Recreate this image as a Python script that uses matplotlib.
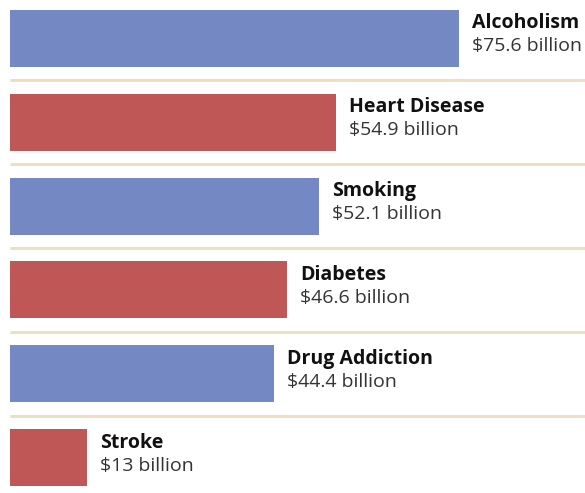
import matplotlib as mpl
mpl.use('Agg')
import matplotlib.pyplot as plt

causes = ["Alcoholism", "Heart Disease", "Smoking", "Diabetes", "Drug Addiction", "Stroke"]
costs = [75.6, 54.9, 52.1, 46.6, 44.4, 13]
cost_labels = ["$75.6 billion", "$54.9 billion", "$52.1 billion", "$46.6 billion", "$44.4 billion", "$13 billion"]

blue = "#7489c3"
red = "#c05757"
rule = "#ecdfc3"

W, H = 585, 493
px_per_b = 5.94       # pixels per billion
left = 10
row = 83.8
top = 38.5
bar_h = 57

fig = plt.figure(figsize=(W / 100, H / 100), dpi=100)
ax = fig.add_axes([0, 0, 1, 1])
ax.set_xlim(-left / px_per_b, (W - left) / px_per_b)
ax.set_ylim(H, 0)
ax.axis('off')

for i, (name, val, lab) in enumerate(zip(causes, costs, cost_labels)):
    yc = top + i * row
    ax.barh(yc, val, height=bar_h, left=0, color=blue if i % 2 == 0 else red)
    tx = val + 13 / px_per_b
    ax.text(tx, yc - 15, name, fontsize=14, fontweight='bold', family='Open Sans',
            va='center', ha='left', color='#111111')
    ax.text(tx, yc + 8, lab, fontsize=14, family='Open Sans',
            va='center', ha='left', color='#333333')
    if i < len(causes) - 1:
        ax.plot([0, (W - left) / px_per_b], [yc + row / 2] * 2, color=rule, lw=2.2,
                solid_capstyle='butt')

fig.savefig('out.png', dpi=100)
